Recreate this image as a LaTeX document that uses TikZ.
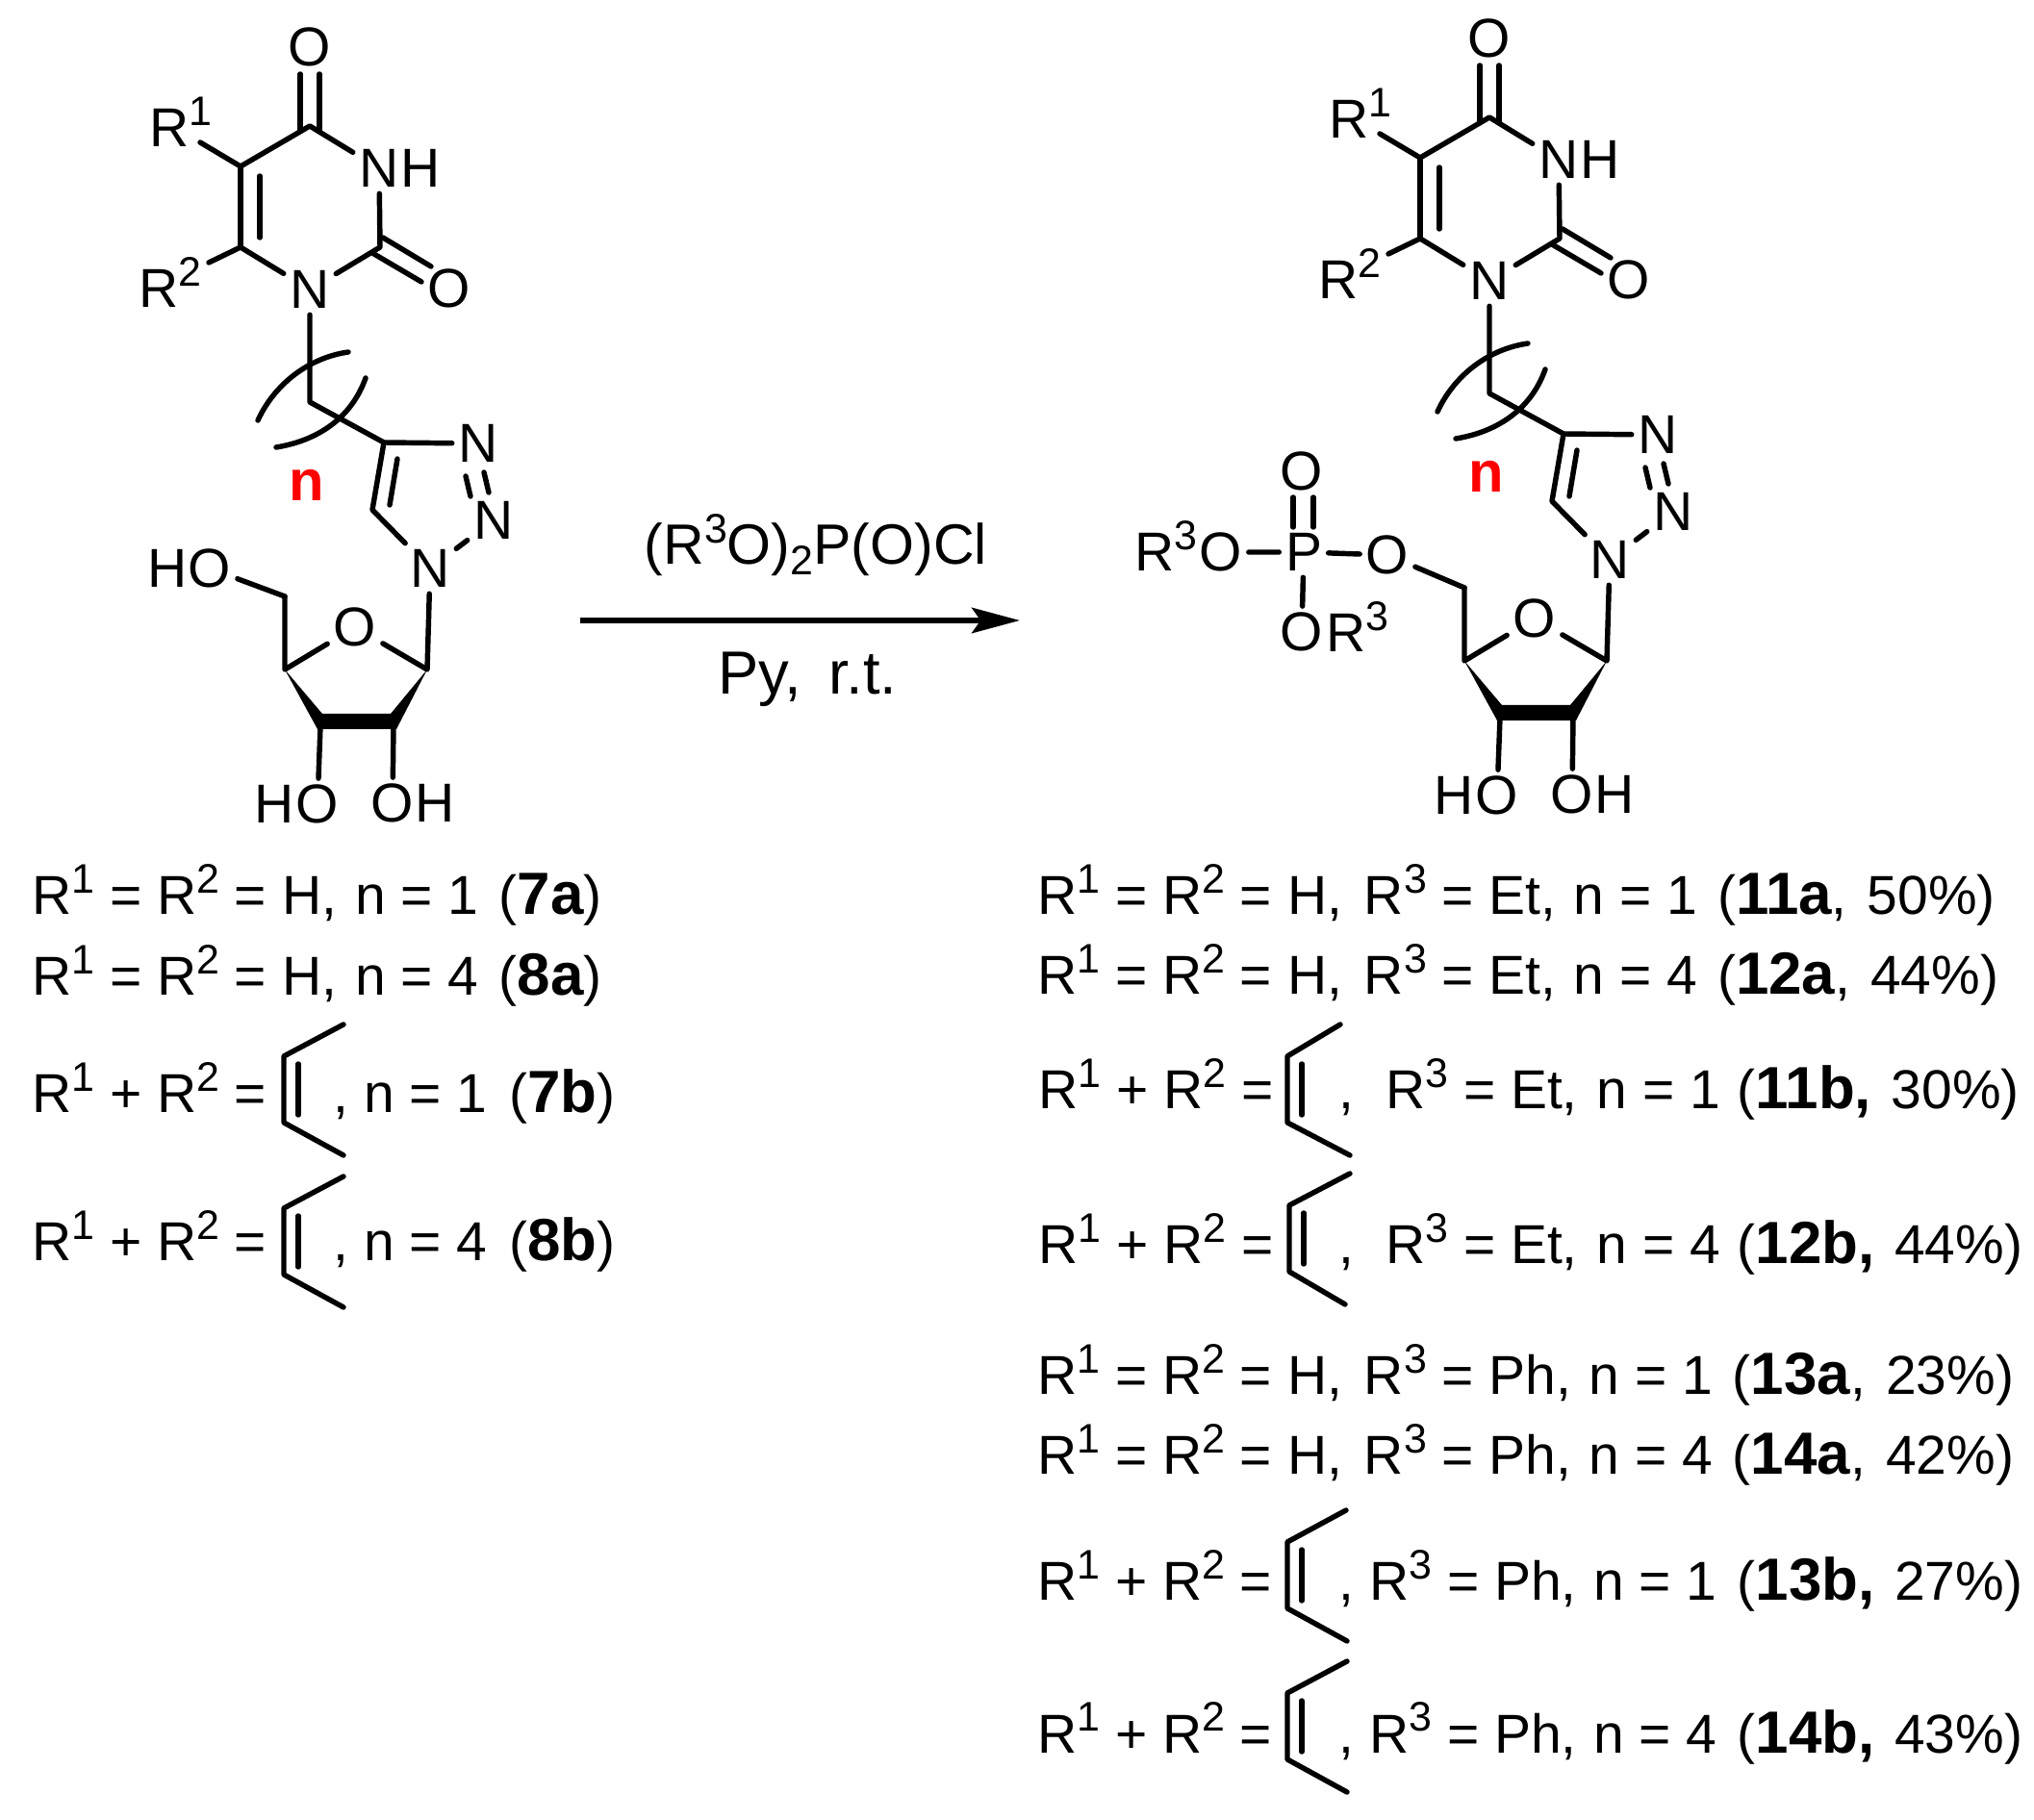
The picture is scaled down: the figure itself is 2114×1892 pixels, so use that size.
\documentclass[tikz,border=0pt]{standalone}
\usepackage{fontspec}
\setmainfont{Liberation Sans}
\usetikzlibrary{arrows.meta}
\newcommand{\supnum}[1]{\raisebox{6.5pt}{\fontsize{12.2}{12}\selectfont #1}}
\newcommand{\subnum}[1]{\raisebox{-3.1pt}{\fontsize{12.2}{12}\selectfont #1}}
\newcommand{\Rn}[1]{R\supnum{#1}}
\newcommand{\cpd}[1]{{\fontsize{17.6}{18}\selectfont\bfseries #1}}
\tikzset{
	bond/.style={line width=1.55pt, line cap=round, line join=round},
	atom/.style={font=\fontsize{16.2}{18}\selectfont, inner sep=1.7pt},
	lbl/.style={font=\fontsize{16.2}{18}\selectfont, inner sep=0pt, anchor=base west},
}
% uv = upper vertex of the C=C fragment
\def\cisene(#1,#2)(#3,#4){
	\draw[bond] ({#1+#3},{#2-33}) -- (#1,#2) -- (#1,{#2+69}) -- ({#1+#4},{#2+103});
	\draw[bond] ({#1+15},{#2+8}) -- ({#1+15},{#2+61});
}
\newcommand{\nucleoside}[3]{
	\begin{scope}[shift={(#1,#2)}, name prefix=#3-]
		%%%%% uracil %%%%%
		\coordinate (c4) at (322,131);
		\coordinate (c5) at (250,173);
		\coordinate (c6) at (250,257);
		\coordinate (c2) at (395,257);
		\coordinate (r1end) at (208,148);
		\coordinate (r2end) at (217,273);
		\node[atom] (o4) at (322,49) {O};
		\node[atom] (n3) at (394,175) {N};
		\node[atom] (h3) at (437,175) {H};
		\node[atom] (n1) at (322,301) {N};
		\node[atom] (o2) at (467,300) {O};
		\node[lbl] (r1) at (154.5,153) {\Rn{1}};
		\node[lbl] (r2) at (143.5,320) {\Rn{2}};
		\coordinate (o4l) at (312,77);
		\coordinate (o4r) at (332,77);
		\coordinate (c4l) at (312,135);
		\coordinate (c4r) at (332,135);
		\coordinate (c2u) at (398,247);
		\coordinate (c2d) at (387,263);
		\coordinate (o2u) at (448,277);
		\coordinate (o2d) at (438,293);
		\coordinate (c5i) at (270,183);
		\coordinate (c6i) at (270,247);
		\draw[bond] (r1end) -- (c5) -- (c4) -- (n3) -- (c2) -- (n1) -- (c6) -- (r2end);
		\draw[bond] (c5) -- (c6);
		\draw[bond] (c5i) -- (c6i);
		\draw[bond] (c4l) -- (o4l);
		\draw[bond] (c4r) -- (o4r);
		\draw[bond] (c2u) -- (o2u);
		\draw[bond] (c2d) -- (o2d);
		%%%%% chain %%%%%
		\coordinate (ch1) at (322,418);
		\coordinate (c4t) at (399,460);
		\draw[bond] (n1) -- (ch1) -- (c4t);
		\draw[bond] (268,437) .. controls (285,400) and (320,372) .. (362,366);
		\draw[bond] (380,393) .. controls (365,435) and (330,458) .. (287,465);
		\node[atom, text=red, font=\fontsize{17}{18}\selectfont\bfseries] (nlabel) at (319,504) {n};
		%%%%% triazole %%%%%
		\coordinate (c5t) at (387,530);
		\node[atom] (n3t) at (497,461) {N};
		\node[atom] (n2t) at (513,541) {N};
		\node[atom] (n1t) at (447,591) {N};
		\coordinate (c4i) at (413,477);
		\coordinate (c5ti) at (405,525);
		\coordinate (n3a) at (484,495);
		\coordinate (n2a) at (489,516);
		\coordinate (n3b) at (503,491);
		\coordinate (n2b) at (508,512);
		\draw[bond] (n3t) -- (c4t) -- (c5t) -- (n1t) -- (n2t);
		\draw[bond] (c4i) -- (c5ti);
		\draw[bond] (n3a) -- (n2a);
		\draw[bond] (n3b) -- (n2b);
		%%%%% ribose %%%%%
		\node[atom] (os) at (369,652) {O};
		\coordinate (c1s) at (444,696);
		\coordinate (c4s) at (296,696);
		\coordinate (c5s) at (296,620);
		\coordinate (c3s) at (333,755);
		\coordinate (c2s) at (409,755);
		\coordinate (bar1) at (335,742);
		\coordinate (bar2) at (406,742);
		\coordinate (bar3) at (412,758);
		\coordinate (bar4) at (330,758);
		\fill[bond] (c4s) -- (bar1) -- (bar2) -- (c1s) -- (bar3) -- (bar4) -- cycle;
		\node[atom] (h3s) at (285,836) {H};
		\node[atom] (o3s) at (330,836) {O};
		\node[atom] (o2s) at (408,835) {O};
		\node[atom] (h2s) at (452,835) {H};
		\draw[bond] (n1t) -- (c1s) -- (os) -- (c4s) -- (c5s);
		\draw[bond] (c3s) -- (o3s);
		\draw[bond] (c2s) -- (o2s);
	\end{scope}
}
\begin{document}
\begin{tikzpicture}[x=0.01cm, y=-0.01cm]
	\useasboundingbox (0,0) rectangle (2114,1892);
	%%%%% START %%%%%

	\nucleoside{0}{0}{left}
	\nucleoside{1226}{-9}{right}

	% free 5'-OH
	\node[atom] (hleft) at (174,591) {H};
	\node[atom] (oleft) at (218,591) {O};
	\draw[bond] (oleft) -- (left-c5s);

	% phosphate
	\node[lbl] (r3a) at (1178.5,594) {\Rn{3}};
	\node[atom] (oa) at (1269,574) {O};
	\node[atom] (p) at (1355,574) {P};
	\node[atom] (ob) at (1442,577) {O};
	\node[atom] (oc) at (1353,490) {O};
	\node[atom] (od) at (1353,657) {O};
	\node[lbl] (r3d) at (1377.5,678) {\Rn{3}};
	\coordinate (pl) at (1344,548);
	\coordinate (pr) at (1365,548);
	\coordinate (ol) at (1344,517);
	\coordinate (or) at (1365,517);
	\draw[bond] (oa) -- (p) -- (ob) -- (right-c5s);
	\draw[bond] (p) -- (od);
	\draw[bond] (pl) -- (ol);
	\draw[bond] (pr) -- (or);

	% reaction arrow
	\coordinate (arrowstart) at (603,645);
	\coordinate (arrowend) at (1060,645);
	\draw[line width=1.6pt, -{Stealth[length=14.2pt, width=7.5pt, inset=2.6pt]}] (arrowstart) -- (arrowend);
	\node[lbl, font=\fontsize{16.8}{18}\selectfont] (reagent) at (669,587) {(\Rn{3}O)\subnum{2}P(O)Cl};
	\node[lbl, font=\fontsize{18}{18}\selectfont] (solvent) at (746,722) {Py,\hspace{0.45em}r.t.};

	% left list
	\node[lbl] (row7a) at (32.5,951) {\Rn{1} = \Rn{2} = H,\hspace{1pt} n = 1\hspace{1.5pt} (\cpd{7a})};
	\node[lbl] (row8a) at (32.5,1035) {\Rn{1} = \Rn{2} = H,\hspace{1pt} n = 4\hspace{1.5pt} (\cpd{8a})};
	\node[lbl] (row7b) at (32.5,1157) {\Rn{1} + \Rn{2} =};
	\cisene(295,1098)(62,62)
	\node[lbl] (tail7b) at (346,1157) {, n = 1\hspace{2pt} (\cpd{7b})};
	\node[lbl] (row8b) at (32.5,1311) {\Rn{1} + \Rn{2} =};
	\cisene(295,1256)(62,62)
	\node[lbl] (tail8b) at (346,1311) {, n = 4\hspace{2pt} (\cpd{8b})};

	% right list
	\node[lbl] (row11a) at (1077.5,951) {\Rn{1} = \Rn{2} = H,\hspace{2pt} \Rn{3} = Et,\hspace{.7pt} n = 1\hspace{1.5pt} (\cpd{11a},\hspace{1.5pt} 50\%)};
	\node[lbl] (row12a) at (1077.5,1034) {\Rn{1} = \Rn{2} = H,\hspace{2pt} \Rn{3} = Et,\hspace{.7pt} n = 4\hspace{1.5pt} (\cpd{12a},\hspace{1.5pt} 44\%)};
	\node[lbl] (row11b) at (1079,1153) {\Rn{1} + \Rn{2} =};
	\cisene(1338,1098)(55,65)
	\node[lbl] (comma11b) at (1391,1153) {,};
	\node[lbl] (tail11b) at (1439.5,1153) {\Rn{3} = Et,\hspace{1.2pt} n = 1\hspace{.5pt} (\cpd{11b, }\hspace{1pt}30\%)};
	\node[lbl] (row12b) at (1079,1314) {\Rn{1} + \Rn{2} =};
	\cisene(1340,1253)(63,58)
	\node[lbl] (comma12b) at (1391,1314) {,};
	\node[lbl] (tail12b) at (1439.5,1314) {\Rn{3} = Et,\hspace{1.2pt} n = 4\hspace{.5pt} (\cpd{12b, }\hspace{1pt}44\%)};
	\node[lbl] (row13a) at (1077.5,1450) {\Rn{1} = \Rn{2} = H,\hspace{2pt} \Rn{3} = Ph,\hspace{.7pt} n = 1\hspace{1.5pt} (\cpd{13a},\hspace{1.5pt} 23\%)};
	\node[lbl] (row14a) at (1077.5,1533) {\Rn{1} = \Rn{2} = H,\hspace{2pt} \Rn{3} = Ph,\hspace{.7pt} n = 4\hspace{1.5pt} (\cpd{14a},\hspace{1.5pt} 42\%)};
	\node[lbl] (row13b) at (1077.5,1664) {\Rn{1} + \Rn{2} =};
	\cisene(1338,1603)(61,62)
	\node[lbl] (tail13b) at (1391,1664) {, \Rn{3} = Ph,\hspace{.5pt} n = 1\hspace{1.5pt} (\cpd{13b, }\hspace{1pt}27\%)};
	\node[lbl] (row14b) at (1077.5,1822) {\Rn{1} + \Rn{2} =};
	\cisene(1338,1760)(62,62)
	\node[lbl] (tail14b) at (1391,1822) {, \Rn{3} = Ph,\hspace{.5pt} n = 4\hspace{1.5pt} (\cpd{14b, }\hspace{1pt}43\%)};

	%%%%% END %%%%%
\end{tikzpicture}
\end{document}
